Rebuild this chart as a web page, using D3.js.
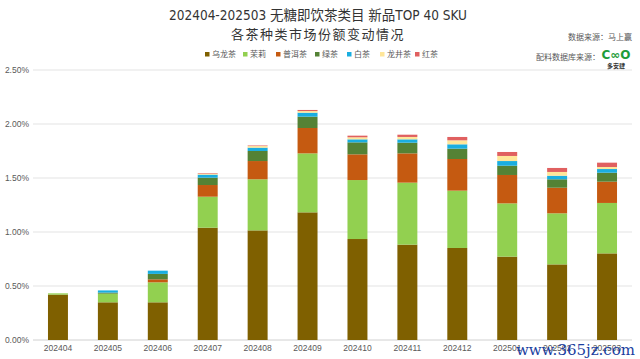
<!DOCTYPE html>
<html><head><meta charset="utf-8">
<script src="https://cdn.jsdelivr.net/npm/d3@7"></script>
<style>
html,body{margin:0;padding:0;background:#fff;}
svg{display:block;font-family:"Noto Sans CJK SC","Noto Sans",sans-serif;}
</style></head>
<body>
<svg id="c" width="640" height="359"></svg>
<script>
const months = ["202404","202405","202406","202407","202408","202409","202410","202411","202412","202501","202502","202503"];
const seriesNames = ["乌龙茶","茉莉","普洱茶","绿茶","白茶","龙井茶","红茶"];
const oolong   = [0.420,0.349,0.349,1.040,1.015,1.182,0.935,0.883,0.852,0.772,0.700,0.802];
const jasmine  = [0.012,0.080,0.185,0.287,0.473,0.546,0.546,0.574,0.531,0.493,0.473,0.467];
const puer     = [0.000,0.000,0.028,0.108,0.169,0.235,0.238,0.271,0.293,0.263,0.237,0.197];
const greenTea = [0.000,0.010,0.050,0.068,0.093,0.105,0.111,0.099,0.096,0.086,0.078,0.083];
const whiteTea = [0.000,0.020,0.030,0.028,0.031,0.037,0.028,0.031,0.040,0.043,0.033,0.034];
const longjing = [0.000,0.000,0.000,0.010,0.015,0.015,0.019,0.022,0.037,0.047,0.035,0.019];
const redTea   = [0.000,0.000,0.000,0.005,0.005,0.010,0.015,0.021,0.031,0.037,0.037,0.040];
const yTicks = [0,0.5,1.0,1.5,2.0,2.5];
const colors = ["#7f6000","#92d050","#c55a11","#548235","#1aaee0","#ffe699","#e06060"];

const seriesVals = [oolong,jasmine,puer,greenTea,whiteTea,longjing,redTea];
const table = months.map((m,i)=>{const o={month:m}; seriesNames.forEach((s,j)=>o[s]=seriesVals[j][i]); return o;});
const stack = d3.stack().keys(seriesNames)(table);

const svg = d3.select("#c");
const x = d3.scaleBand().domain(months).range([33,632]).paddingInner(0.6).paddingOuter(0.3);
const y = d3.scaleLinear().domain([0,2.5]).range([340,70]);

// gridlines
svg.append("g").selectAll("line").data(yTicks).join("line")
  .attr("x1",33).attr("x2",632)
  .attr("y1",d=>y(d)).attr("y2",d=>y(d))
  .attr("stroke",d=>d===0?"#d0d0d0":"#e3e3e3").attr("stroke-width",1);

// y axis labels
const ya = d3.axisLeft(y).tickValues(yTicks).tickFormat(d=>d.toFixed(2)+"%").tickSize(0).tickPadding(0);
svg.append("g").attr("transform","translate(29,0)").call(ya)
  .call(g=>g.select(".domain").remove())
  .call(g=>g.selectAll("text").attr("fill","#595959").style("font-size","8.5px").style("font-family","Liberation Sans, Arial, sans-serif"));

// bars
svg.append("g").selectAll("g").data(stack).join("g")
  .attr("fill",(d,i)=>colors[i])
  .selectAll("rect").data(d=>d).join("rect")
  .attr("x",d=>x(d.data.month)).attr("width",x.bandwidth())
  .attr("y",d=>y(d[1])).attr("height",d=>Math.max(0,y(d[0])-y(d[1])));

// x axis labels
const xa = d3.axisBottom(x).tickSize(0).tickPadding(0);
svg.append("g").attr("transform","translate(0,345)").call(xa)
  .call(g=>g.select(".domain").remove())
  .call(g=>g.selectAll("text").attr("fill","#595959").style("font-size","8.5px").style("font-family","Liberation Sans, Arial, sans-serif"));

// titles
svg.append("text").attr("x",318).attr("y",20).attr("text-anchor","middle")
  .style("font-size","13.5px").attr("fill","#333")
  .style("font-family","'DejaVu Sans Condensed','Noto Sans CJK SC',sans-serif")
  .text("202404-202503 无糖即饮茶类目 新品TOP 40 SKU");
svg.append("text").attr("x",318).attr("y",39).attr("text-anchor","middle")
  .style("font-size","13px").style("letter-spacing","1.5px").attr("fill","#333")
  .text("各茶种类市场份额变动情况");

// legend
const legX = [205,243,276,315,347,380,415];
const lg = svg.append("g").selectAll("g").data(seriesNames).join("g")
  .attr("transform",(d,i)=>`translate(${legX[i]},56)`);
lg.append("rect").attr("x",0).attr("y",-4).attr("width",4.5).attr("height",4.5).attr("fill",(d,i)=>colors[i]);
lg.append("text").attr("x",7).attr("y",0.5).style("font-size","8px").attr("fill","#595959").text(d=>d);

// sources
svg.append("text").attr("x",632).attr("y",40).attr("text-anchor","end")
  .style("font-size","8px").attr("fill","#595959").text("数据来源：马上赢");
svg.append("text").attr("x",600).attr("y",60).attr("text-anchor","end")
  .style("font-size","8px").attr("fill","#595959").text("配料数据库来源：");
const logo = svg.append("g").attr("transform","translate(604,48)");
logo.append("text").attr("x",12).attr("y",11).attr("text-anchor","middle")
  .style("font-size","12px").style("font-weight","bold").attr("fill","#1e9c3a")
  .style("font-family","'DejaVu Sans',sans-serif").text("C∞O");
logo.append("text").attr("x",12).attr("y",20).attr("text-anchor","middle")
  .style("font-size","6px").style("font-weight","bold").attr("fill","#333").text("多安肆");

// watermark
svg.append("text").attr("x",635).attr("y",355).attr("text-anchor","end")
  .style("font-size","15px").style("font-family","'DejaVu Serif',serif").attr("fill","#1a3ea0")
  .text("www.365jz.com");
</script>
</body></html>
